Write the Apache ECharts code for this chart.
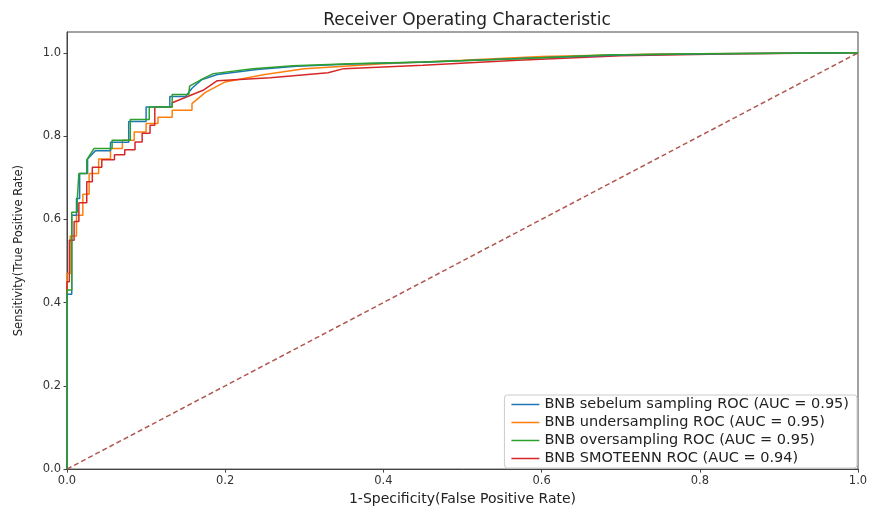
<!DOCTYPE html>
<html>
<head>
<meta charset="utf-8">
<script src="https://cdn.jsdelivr.net/npm/echarts@6/dist/echarts.min.js"></script>
<style>
html,body{margin:0;padding:0;background:#fff;}
#chart{width:872px;height:511px;}
</style>
</head>
<body>
<div id="chart"></div>
<script>
// ---- data ----
const titleText = 'Receiver Operating Characteristic';
const xAxisName = '1-Specificity(False Positive Rate)';
const yAxisName = 'Sensitivity(True Positive Rate)';
const tickValues = [0, 0.2, 0.4, 0.6, 0.8, 1.0];

const seriesNames = [
  'BNB sebelum sampling ROC (AUC = 0.95)',
  'BNB undersampling ROC (AUC = 0.95)',
  'BNB oversampling ROC (AUC = 0.95)',
  'BNB SMOTEENN ROC (AUC = 0.94)'
];

const sebelumFpr = [0,0,0.006,0.006,0.012,0.012,0.016,0.016,0.026,0.026,0.036,0.055,0.055,0.078,0.078,0.1,0.1,0.13,0.13,0.15,0.158,0.17,0.19,0.24,0.29,0.36,0.46,0.58,0.7,0.82,1.0];
const sebelumTpr = [0,0.42,0.42,0.61,0.61,0.65,0.65,0.71,0.71,0.745,0.765,0.765,0.785,0.785,0.835,0.835,0.87,0.87,0.895,0.895,0.915,0.935,0.948,0.96,0.968,0.973,0.978,0.987,0.995,0.998,1.0];

const underFpr = [0,0,0.004,0.004,0.012,0.012,0.02,0.02,0.028,0.028,0.04,0.04,0.055,0.055,0.07,0.07,0.085,0.085,0.1,0.1,0.115,0.115,0.133,0.133,0.158,0.158,0.175,0.2,0.25,0.3,0.4,0.5,0.6,0.75,1.0];
const underTpr = [0,0.47,0.47,0.56,0.56,0.61,0.61,0.66,0.66,0.71,0.71,0.745,0.745,0.77,0.77,0.79,0.79,0.81,0.81,0.83,0.83,0.845,0.845,0.862,0.862,0.878,0.905,0.93,0.948,0.962,0.974,0.982,0.991,0.997,1.0];

const overFpr = [0,0,0.006,0.006,0.013,0.013,0.015,0.015,0.025,0.025,0.034,0.057,0.057,0.08,0.08,0.104,0.104,0.133,0.133,0.154,0.155,0.172,0.185,0.235,0.286,0.358,0.45,0.57,0.68,0.8,1.0];
const overTpr = [0,0.43,0.43,0.617,0.617,0.648,0.648,0.71,0.71,0.743,0.77,0.77,0.79,0.79,0.84,0.84,0.87,0.87,0.90,0.90,0.92,0.938,0.95,0.962,0.969,0.974,0.978,0.986,0.995,0.998,1.0];

const smoteennFpr = [0,0,0.003,0.003,0.009,0.009,0.015,0.015,0.025,0.025,0.032,0.032,0.044,0.044,0.06,0.06,0.073,0.073,0.086,0.086,0.095,0.095,0.105,0.105,0.111,0.111,0.133,0.133,0.172,0.19,0.257,0.33,0.35,0.45,0.57,0.7,0.85,1.0];
const smoteennTpr = [0,0.45,0.45,0.55,0.55,0.595,0.595,0.64,0.64,0.69,0.69,0.725,0.725,0.743,0.743,0.755,0.755,0.767,0.767,0.786,0.786,0.807,0.807,0.826,0.826,0.87,0.87,0.88,0.91,0.933,0.94,0.952,0.962,0.97,0.982,0.993,0.998,1.0];

const diagX = [0, 1];
const diagY = [0, 1];

// ---- chart ----
const colors = ['#1f77b4', '#ff7f0e', '#2ca02c', '#d62728'];
const fprs = [sebelumFpr, underFpr, overFpr, smoteennFpr];
const tprs = [sebelumTpr, underTpr, overTpr, smoteennTpr];
const zip = (a, b) => a.map((v, i) => [v, b[i]]);
const FONT = 'DejaVu Sans';

const series = seriesNames.map((name, i) => ({
  name: name,
  type: 'line',
  data: zip(fprs[i], tprs[i]),
  symbol: 'none',
  lineStyle: { color: colors[i], width: 1.5 },
  itemStyle: { color: colors[i] },
  z: 3 + (i === 2 ? 2 : i === 0 ? 1 : 0)
}));
series.push({
  name: 'diag',
  type: 'line',
  data: zip(diagX, diagY),
  symbol: 'none',
  lineStyle: { color: '#b0574f', width: 1.5, type: [5, 3] },
  z: 2
});

const chart = echarts.init(document.getElementById('chart'), null, { renderer: 'canvas' });
chart.setOption({
  animation: false,
  backgroundColor: '#fff',
  title: {
    text: titleText,
    left: 462,
    top: 7,
    textAlign: 'center',
    textStyle: { fontFamily: FONT, fontSize: 17, fontWeight: 'normal', color: '#222' }
  },
  grid: {
    left: 67, right: 14, top: 32, bottom: 39,
    show: true, borderColor: '#444', borderWidth: 1, backgroundColor: '#fff'
  },
  legend: {
    data: seriesNames,
    orient: 'vertical',
    right: 15,
    top: 395,
    icon: 'rect',
    itemWidth: 28,
    itemHeight: 1.5,
    itemGap: 3,
    padding: [2, 8, 2, 7],
    backgroundColor: '#fff',
    borderColor: '#ccc',
    borderWidth: 1,
    borderRadius: 3,
    textStyle: { fontFamily: FONT, fontSize: 14.5, lineHeight: 15, color: '#222' }
  },
  xAxis: {
    type: 'value', min: 0, max: 1,
    name: xAxisName, nameLocation: 'middle', nameGap: 21,
    nameTextStyle: { fontFamily: FONT, fontSize: 14, color: '#222' },
    axisLine: { show: true, lineStyle: { color: '#444' } },
    axisTick: { show: true, length: 3.5, customValues: tickValues, lineStyle: { color: '#444' } },
    axisLabel: { customValues: tickValues, margin: 6, fontFamily: FONT, fontSize: 11.5, color: '#333',
      formatter: v => v.toFixed(1) },
    splitLine: { show: false }
  },
  yAxis: {
    type: 'value', min: 0, max: 1.05,
    name: yAxisName, nameLocation: 'middle', nameGap: 42, nameRotate: 90,
    nameTextStyle: { fontFamily: FONT, fontSize: 11.5, color: '#222' },
    axisLine: { show: true, lineStyle: { color: '#444' } },
    axisTick: { show: true, length: 3.5, customValues: tickValues, lineStyle: { color: '#444' } },
    axisLabel: { customValues: tickValues, margin: 6, fontFamily: FONT, fontSize: 11.5, color: '#333',
      formatter: v => v.toFixed(1) },
    splitLine: { show: false }
  },
  series: series
});
</script>
</body>
</html>
